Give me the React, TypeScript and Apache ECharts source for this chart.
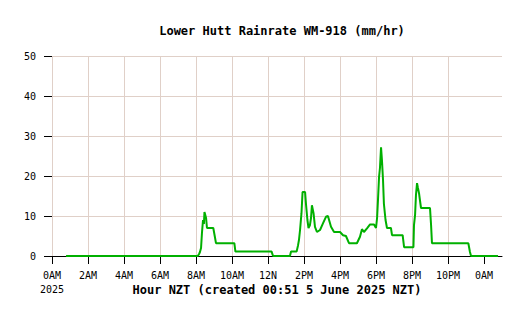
import React, { useEffect, useRef } from "react";
import * as echarts from "echarts";

const hours = [
  0.78, 8.1, 8.13, 8.17, 8.22, 8.28, 8.33, 8.39, 8.44, 8.47, 8.53, 8.56, 8.61, 8.96, 9.0, 9.06, 9.11,
  10.13, 10.19, 12.2, 12.28, 13.22, 13.28, 13.59, 13.67, 13.72, 13.78, 13.86, 13.92, 14.06, 14.11,
  14.19, 14.25, 14.33, 14.39, 14.44, 14.53, 14.61, 14.72, 14.89, 15.06, 15.22, 15.33, 15.5, 15.67,
  16.0, 16.17, 16.33, 16.5, 16.94, 17.11, 17.22, 17.33, 17.5, 17.67, 17.89, 18.0, 18.06, 18.11,
  18.17, 18.22, 18.28, 18.33, 18.39, 18.44, 18.53, 18.61, 18.83, 18.89, 19.48, 19.56, 20.08, 20.11,
  20.17, 20.22, 20.28, 20.33, 20.39, 20.44, 20.5, 21.0, 21.06, 21.11, 23.13, 23.22, 23.28, 24.78,
];
const rates = [
  0, 0, 0, 0.5, 1, 2, 5.7, 9, 8, 11, 10, 9.5, 7, 7, 6, 4.5, 3.2,
  3.2, 1.1, 1.1, 0, 0, 1.1, 1.1, 2.7, 4, 6.5, 10.7, 16, 16, 13,
  9, 7, 7.7, 9.5, 12.7, 10.7, 7.3, 6, 6.5, 8.2, 9.8, 10, 7.3, 6,
  6, 5.2, 5, 3.2, 3.2, 4.8, 6.7, 6, 6.9, 7.9, 7.9, 7, 9.5, 14,
  19.8, 22, 27.2, 24, 19, 13, 9, 7, 7, 5.2, 5.2, 2.2, 2.2, 7.7,
  10.2, 15.2, 18.2, 17, 15.7, 14, 12, 12, 7.7, 3.2, 3.2, 1, 0, 0,
];
const tickHours = [0, 2, 4, 6, 8, 10, 12, 14, 16, 18, 20, 22, 24];
const tickLabels = ["0AM\n2025", "2AM", "4AM", "6AM", "8AM", "10AM", "12N", "2PM", "4PM", "6PM", "8PM", "10PM", "0AM"];

const FONT = "DejaVu Sans Mono";

export default function App() {
  const ref = useRef<HTMLDivElement>(null);
  useEffect(() => {
    const chart = echarts.init(ref.current!, null, { renderer: "svg" });
    const data = hours.map((h, i) => [h, rates[i]]);
    chart.setOption({
      animation: false,
      backgroundColor: "#ffffff",
      title: {
        text: "Lower Hutt Rainrate WM-918 (mm/hr)",
        left: 277,
        textAlign: "center",
        top: 20,
        textStyle: { fontFamily: FONT, fontSize: 12, fontWeight: "bold", color: "#000" },
      },
      grid: { left: 52, right: 20, top: 56, bottom: 60 },
      xAxis: {
        type: "value",
        min: 0,
        max: 25,
        interval: 2,
        name: "Hour NZT (created 00:51 5 June 2025 NZT)",
        nameLocation: "middle",
        nameGap: 28,
        nameMoveOverlap: false,
        nameTextStyle: { fontFamily: FONT, fontSize: 12, fontWeight: "bold", color: "#000" },
        axisLine: { show: true, lineStyle: { color: "#000", width: 1 } },
        axisTick: { show: true, length: 8, customValues: tickHours, lineStyle: { color: "#000" } },
        axisLabel: {
          customValues: tickHours,
          margin: 12,
          fontFamily: FONT,
          fontSize: 10,
          lineHeight: 14,
          color: "#000",
          formatter: (v: number) => {
            const i = tickHours.indexOf(v);
            return i >= 0 ? tickLabels[i] : "";
          },
        },
        splitLine: { show: true, showMaxLine: false, lineStyle: { color: "#e0d0c8", width: 1 } },
      },
      yAxis: {
        type: "value",
        min: 0,
        max: 50,
        interval: 10,
        axisLine: { show: false },
        axisTick: { show: true, length: 8, lineStyle: { color: "#000" } },
        axisLabel: { margin: 16, fontFamily: FONT, fontSize: 10, color: "#000" },
        splitLine: { show: true, lineStyle: { color: "#e0d0c8", width: 1 } },
      },
      series: [
        {
          type: "line",
          data,
          showSymbol: false,
          lineStyle: { color: "#00b000", width: 2 },
          itemStyle: { color: "#00b000" },
        },
      ],
    });
    return () => chart.dispose();
  }, []);
  return <div ref={ref} style={{ position: "absolute", left: 0, top: 0, width: 522, height: 316 }} />;
}
